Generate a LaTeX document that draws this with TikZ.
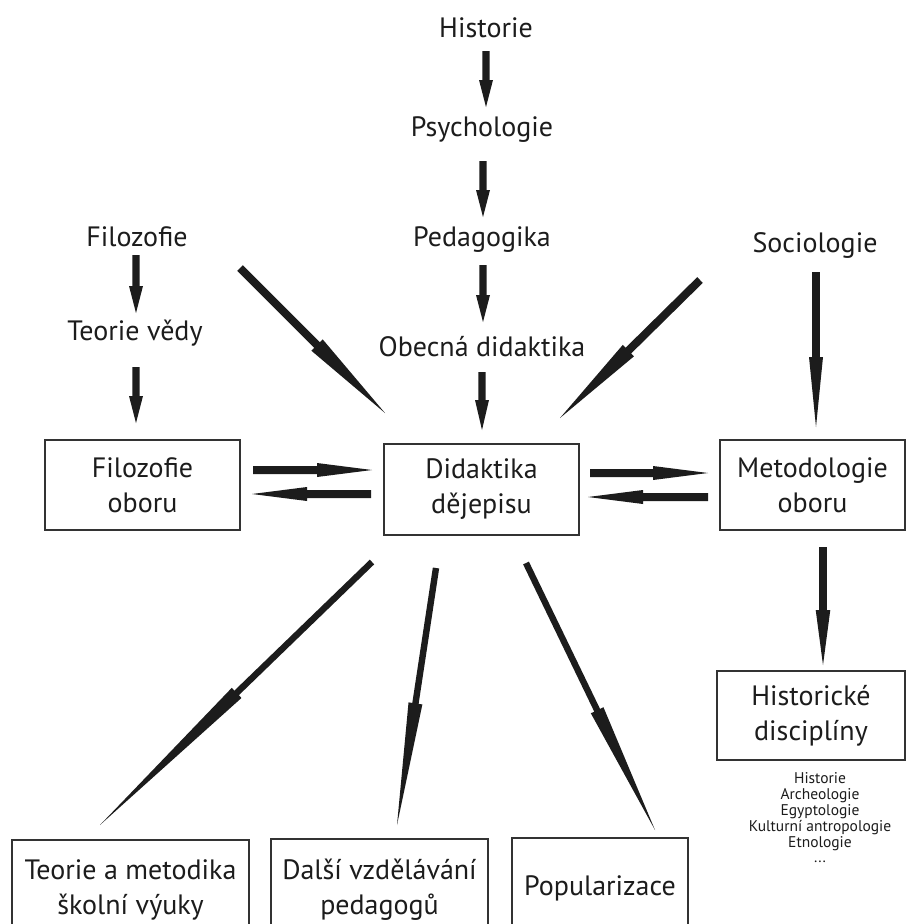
\documentclass[tikz,border=0pt]{standalone}
\usepackage{fontspec}
\setmainfont{PT Sans}
\usetikzlibrary{calc}
\definecolor{ink}{HTML}{1C1C1C}
\definecolor{boxline}{HTML}{333333}
\newcommand{\taperarrow}[5]{%
  \coordinate (tpH) at ($(#2)!#3!(#1)$);
  \fill[arrowfill] ($(#1)!#4!90:(#2)$) -- ($(tpH)!#4!90:(#2)$) -- ($(tpH)!#5!90:(#2)$) -- (#2)
    -- ($(tpH)!#5!-90:(#2)$) -- ($(tpH)!#4!-90:(#2)$) -- ($(#1)!#4!-90:(#2)$) -- cycle;}
\tikzset{
  lbl/.style={font=\fontsize{28}{35}\selectfont, text=ink, inner sep=0pt},
  boxnode/.style={draw=boxline, line width=1.3pt, align=center, inner sep=0pt,
    font=\fontsize{28}{35}\selectfont, text=ink},
  small/.style={font=\fontsize{15.5}{15.8}\selectfont, text=ink, align=center, inner sep=0pt},
  arrowfill/.style={fill=ink}
}
\begin{document}
\begin{tikzpicture}[x=1pt,y=-1pt]
\useasboundingbox (0,0) rectangle (909,924);
\fill[white] (0,0) rectangle (909,924);
\begin{scope}
\clip (0,0) rectangle (909,924);
% text labels
\node[lbl] (historie) at (486,28) {Historie};
\node[lbl] (psych) at (482,130) {Psychologie};
\node[lbl] (pedag) at (482,240) {Pedagogika};
\node[lbl] (obecna) at (482,347) {Obecná didaktika};
\node[lbl] (filoz) at (137,237) {Filozofie};
\node[lbl] (teorie) at (135,333) {Teorie vědy};
\node[lbl] (socio) at (815,245) {Sociologie};
% boxes
\node[boxnode, minimum width=195pt, minimum height=90pt] (filozobor) at (142.5,485) {Filozofie\\oboru};
\node[boxnode, minimum width=195pt, minimum height=91pt] (didakt) at (481.5,489.5) {Didaktika\\dějepisu};
\node[boxnode, minimum width=185pt, minimum height=90pt] (metod) at (812.5,485) {Metodologie\\oboru};
\node[boxnode, minimum width=188pt, minimum height=89pt] (histdisc) at (811,715.5) {Historické\\disciplíny};
\node[small] (histlist) at (820,818) {Historie\\Archeologie\\Egyptologie\\Kulturní antropologie\\Etnologie\\...};
\node[boxnode, minimum width=237pt, minimum height=99pt] (teoriemet) at (130.5,889.5) {Teorie a metodika\\školní výuky};
\node[boxnode, minimum width=217pt, minimum height=101pt] (dalsi) at (379.5,889.5) {Další vzdělávání\\pedagogů};
\node[boxnode, minimum width=176pt, minimum height=101pt] (popul) at (600,888.5) {Popularizace};
% arrow end coordinates
\coordinate (a1s) at (486,51);  \coordinate (a1e) at (486,107);
\coordinate (a2s) at (483,161); \coordinate (a2e) at (483,217);
\coordinate (a3s) at (483,265); \coordinate (a3e) at (483,322);
\coordinate (a4s) at (482,372); \coordinate (a4e) at (482,430);
\coordinate (a5s) at (136,255); \coordinate (a5e) at (136,313);
\coordinate (a6s) at (136,367); \coordinate (a6e) at (136,423);
\coordinate (a7s) at (816,272); \coordinate (a7e) at (816,427);
\coordinate (a8s) at (823,547); \coordinate (a8e) at (823,665);
\coordinate (a9s) at (240,268); \coordinate (a9e) at (385,413);
\coordinate (a10s) at (700,280); \coordinate (a10e) at (560,418);
\coordinate (a11s) at (253,470); \coordinate (a11e) at (372,470);
\coordinate (a12s) at (371,494); \coordinate (a12e) at (252,494);
\coordinate (a13s) at (590,473); \coordinate (a13e) at (708,473);
\coordinate (a14s) at (708,497); \coordinate (a14e) at (588,497);
\coordinate (a15s) at (372,562); \coordinate (a15e) at (100,825);
\coordinate (a16s) at (436,568); \coordinate (a16e) at (397,825);
\coordinate (a17s) at (526,563); \coordinate (a17e) at (655,830);
% arrows
\taperarrow{a1s}{a1e}{27pt}{3.6pt}{7pt}
\taperarrow{a2s}{a2e}{27pt}{3.6pt}{7pt}
\taperarrow{a3s}{a3e}{27pt}{3.6pt}{7pt}
\taperarrow{a4s}{a4e}{30pt}{3.6pt}{7pt}
\taperarrow{a5s}{a5e}{27pt}{3.6pt}{7pt}
\taperarrow{a6s}{a6e}{27pt}{3.6pt}{7pt}
\taperarrow{a7s}{a7e}{70pt}{3.8pt}{7pt}
\taperarrow{a8s}{a8e}{55pt}{3.8pt}{7.3pt}
\taperarrow{a9s}{a9e}{96pt}{4pt}{8pt}
\taperarrow{a10s}{a10e}{96pt}{4pt}{8pt}
\taperarrow{a11s}{a11e}{55pt}{4pt}{7pt}
\taperarrow{a12s}{a12e}{55pt}{4pt}{7pt}
\taperarrow{a13s}{a13e}{55pt}{4pt}{7pt}
\taperarrow{a14s}{a14e}{55pt}{4pt}{7pt}
\taperarrow{a15s}{a15e}{190pt}{3.2pt}{7pt}
\taperarrow{a16s}{a16e}{123pt}{3.2pt}{7pt}
\taperarrow{a17s}{a17e}{133pt}{3.2pt}{7pt}
\end{scope}
\end{tikzpicture}
\end{document}
